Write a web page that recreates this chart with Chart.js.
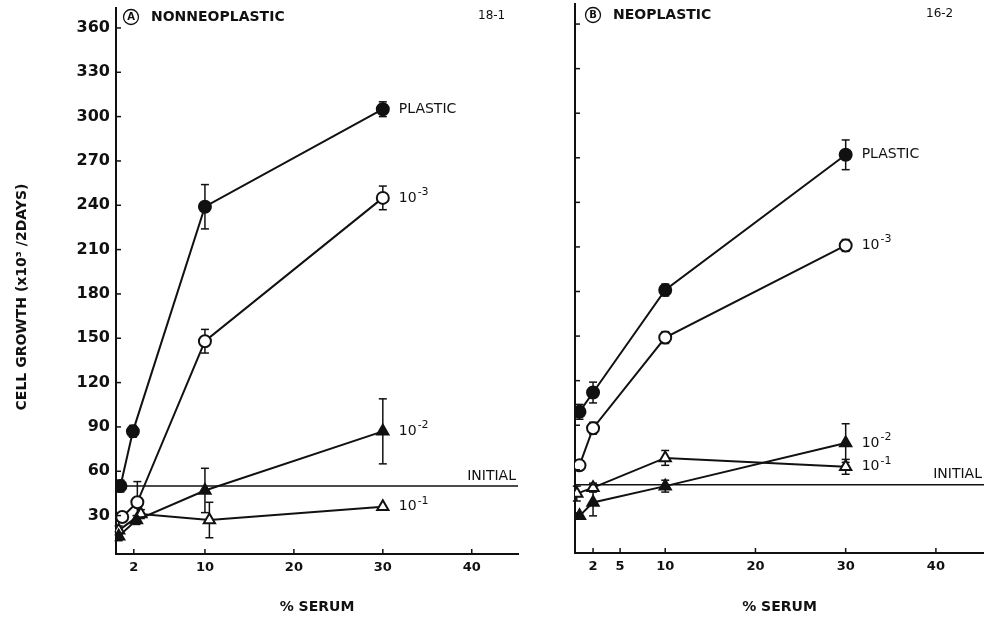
<!DOCTYPE html>
<html>
<head>
<meta charset="utf-8">
<script src="https://cdn.jsdelivr.net/npm/chart.js@4.4.1/dist/chart.umd.min.js"></script>
<style>
  html, body { margin: 0; padding: 0; background: #fff; }
  #chartA { position: absolute; left: 0; top: 0; }
  #chartB { position: absolute; left: 540px; top: 0; }
</style>
</head>
<body>
<canvas id="chartA" width="522" height="619"></canvas>
<canvas id="chartB" width="444" height="619"></canvas>
<script>
// tick labels
var yTicks = [30, 60, 90, 120, 150, 180, 210, 240, 270, 300, 330, 360];
var xTicksA = [2, 10, 20, 30, 40];
var xTicksB = [2, 5, 10, 20, 30, 40];
var initialLevel = 50;

// panel A, nonneoplastic 18-1
var aPlasticX = [0.5, 1.9, 10, 30];
var aPlasticY = [50, 87, 239, 305];
var aPlasticErr = [4, 4, 15, 5];
var a3X = [0.7, 2.4, 10, 30];
var a3Y = [29, 39, 148, 245];
var a3Err = [3, 14, 8, 8];
var a2X = [0.3, 2.3, 10, 30];
var a2Y = [16, 27, 47, 87];
var a2Err = [3, 3, 15, 22];
var a1X = [0.3, 2.8, 10.5, 30];
var a1Y = [20, 31, 27, 36];
var a1Err = [3, 3, 12, 0];

// panel B, neoplastic 16-2
var bPlasticX = [0.5, 2, 10, 30];
var bPlasticY = [99, 112, 181, 272];
var bPlasticErr = [5, 7, 4, 10];
var b3X = [0.5, 2, 10, 30];
var b3Y = [63, 88, 149, 211];
var b3Err = [2, 4, 4, 4];
var b2X = [0.5, 2, 10, 30];
var b2Y = [29, 38, 49, 78];
var b2Err = [2, 9, 4, 13];
var b1X = [0.2, 2, 10, 30];
var b1Y = [44, 48, 68, 62];
var b1Err = [5, 3, 5, 5];

var ink = '#111';
var FONT = 'DejaVu Sans';

function pts(xs, ys) {
  return xs.map(function (x, i) { return { x: x, y: ys[i] }; });
}

function series(label, xs, ys, errs, shape, filled) {
  return {
    label: label,
    data: pts(xs, ys),
    errors: errs,
    showLine: true,
    borderColor: ink,
    borderWidth: 2,
    pointStyle: shape,
    pointRadius: shape == 'triangle' ? 6.5 : 6,
    pointBorderWidth: 2,
    pointBorderColor: ink,
    pointBackgroundColor: filled ? ink : '#fff'
  };
}

function initialLine(xMax) {
  return {
    label: 'INITIAL',
    data: [{ x: 0, y: initialLevel }, { x: xMax, y: initialLevel }],
    showLine: true,
    borderColor: ink,
    borderWidth: 1.5,
    pointRadius: 0
  };
}

function line(ctx, x1, y1, x2, y2) {
  ctx.beginPath();
  ctx.moveTo(x1, y1);
  ctx.lineTo(x2, y2);
  ctx.stroke();
}

// "10^-3" -> 10 with a raised -3
function labelText(ctx, text, x, y) {
  var parts = text.split('^');
  ctx.font = '14px "' + FONT + '"';
  ctx.fillText(parts[0], x, y);
  if (parts.length > 1) {
    var w = ctx.measureText(parts[0]).width;
    ctx.font = '11px "' + FONT + '"';
    ctx.fillText(parts[1], x + w + 1, y - 6);
  }
}

var panelPlugin = {
  id: 'panel',
  beforeDatasetsDraw: function (chart) {
    var ctx = chart.ctx, xs = chart.scales.x, ys = chart.scales.y;
    ctx.save();
    ctx.strokeStyle = ink;
    ctx.lineWidth = 1.5;
    chart.data.datasets.forEach(function (ds) {
      if (!ds.errors) return;
      ds.data.forEach(function (p, i) {
        var e = ds.errors[i];
        if (!e) return;
        var px = xs.getPixelForValue(p.x);
        var top = ys.getPixelForValue(p.y + e);
        var bot = ys.getPixelForValue(p.y - e);
        line(ctx, px, top, px, bot);
        line(ctx, px - 4, top, px + 4, top);
        line(ctx, px - 4, bot, px + 4, bot);
      });
    });
    ctx.restore();
  },
  afterDraw: function (chart, args, opts) {
    var ctx = chart.ctx, xs = chart.scales.x, ys = chart.scales.y, a = chart.chartArea;
    ctx.save();
    ctx.strokeStyle = ink;
    ctx.fillStyle = ink;
    ctx.lineWidth = 1.5;
    // inward tick marks
    yTicks.forEach(function (v) {
      var py = ys.getPixelForValue(v);
      line(ctx, a.left, py, a.left + 5, py);
    });
    opts.xTicks.forEach(function (v) {
      var px = xs.getPixelForValue(v);
      line(ctx, px, a.bottom, px, a.bottom - 5);
    });

    // series names at the last point
    ctx.textBaseline = 'middle';
    ctx.textAlign = 'left';
    chart.data.datasets.forEach(function (ds) {
      if (!ds.errors) return;
      var p = ds.data[ds.data.length - 1];
      labelText(ctx, ds.label, xs.getPixelForValue(p.x) + 16, ys.getPixelForValue(p.y));
    });
    ctx.textAlign = 'right';
    ctx.font = '14px "' + FONT + '"';
    ctx.fillText('INITIAL', a.right - 2, ys.getPixelForValue(initialLevel) - 10);

    // panel heading
    ctx.lineWidth = 1.3;
    ctx.beginPath();
    ctx.arc(opts.circleX, opts.headY, 7.5, 0, Math.PI * 2);
    ctx.stroke();
    ctx.textAlign = 'center';
    ctx.font = 'bold 10px "' + FONT + '"';
    ctx.fillText(opts.letter, opts.circleX, opts.headY + 0.5);
    ctx.textAlign = 'left';
    ctx.font = 'bold 14px "' + FONT + '"';
    ctx.fillText(opts.title, opts.circleX + 20, opts.headY);
    ctx.font = '12px "' + FONT + '"';
    ctx.fillText(opts.code, opts.codeX, opts.headY - 1);

    if (opts.yTitle) {
      ctx.save();
      ctx.translate(22, 297);
      ctx.rotate(-Math.PI / 2);
      ctx.textAlign = 'center';
      ctx.font = 'bold 14px "' + FONT + '"';
      ctx.fillText(opts.yTitle, 0, 0);
      ctx.restore();
    }
    ctx.restore();
  }
};

function makeChart(id, datasets, cfg) {
  return new Chart(document.getElementById(id), {
    type: 'scatter',
    data: { datasets: datasets },
    plugins: [panelPlugin],
    options: {
      responsive: false,
      animation: false,
      layout: { autoPadding: false, padding: { top: cfg.top, right: cfg.right, left: 0, bottom: 0 } },
      plugins: {
        legend: { display: false },
        tooltip: { enabled: false },
        panel: cfg
      },
      scales: {
        x: {
          type: 'linear',
          min: 0,
          max: cfg.xMax,
          afterBuildTicks: function (s) {
            s.ticks = cfg.xTicks.map(function (v) { return { value: v }; });
          },
          afterFit: function (s) {
            s.height = cfg.xHeight;
            s.paddingLeft = 0;
            s.paddingRight = 0;
          },
          grid: { display: false, drawTicks: false },
          border: { display: true, color: ink, width: 2 },
          ticks: {
            color: ink,
            padding: 6,
            maxRotation: 0,
            autoSkip: false,
            font: { family: FONT, size: 13, weight: 'bold' }
          },
          title: {
            display: true,
            text: '% SERUM',
            color: ink,
            padding: { top: 0, bottom: 3 },
            font: { family: FONT, size: 14, weight: 'bold' }
          }
        },
        y: {
          type: 'linear',
          min: 4,
          max: 373.5,
          afterBuildTicks: function (s) {
            s.ticks = yTicks.map(function (v) { return { value: v }; });
          },
          afterFit: function (s) {
            s.width = cfg.yWidth;
            s.paddingTop = 0;
            s.paddingBottom = 0;
          },
          grid: { display: false, drawTicks: false },
          border: { display: true, color: ink, width: 2 },
          ticks: {
            display: cfg.yLabels,
            color: ink,
            padding: 6,
            font: { family: FONT, size: 16, weight: 'bold' }
          }
        }
      }
    }
  });
}

makeChart('chartA', [
  initialLine(45.2),
  series('PLASTIC', aPlasticX, aPlasticY, aPlasticErr, 'circle', true),
  series('10^-3', a3X, a3Y, a3Err, 'circle', false),
  series('10^-2', a2X, a2Y, a2Err, 'triangle', true),
  series('10^-1', a1X, a1Y, a1Err, 'triangle', false)
], {
  top: 8, right: 4, xMax: 45.2, xTicks: xTicksA, xHeight: 65, yWidth: 116, yLabels: true,
  letter: 'A', title: 'NONNEOPLASTIC', code: '18-1', circleX: 131, headY: 17, codeX: 478,
  yTitle: 'CELL GROWTH (x10³ /2DAYS)'
});

makeChart('chartB', [
  initialLine(45.33),
  series('PLASTIC', bPlasticX, bPlasticY, bPlasticErr, 'circle', true),
  series('10^-3', b3X, b3Y, b3Err, 'circle', false),
  series('10^-2', b2X, b2Y, b2Err, 'triangle', true),
  series('10^-1', b1X, b1Y, b1Err, 'triangle', false)
], {
  top: 4, right: 0, xMax: 45.33, xTicks: xTicksB, xHeight: 66, yWidth: 35, yLabels: false,
  letter: 'B', title: 'NEOPLASTIC', code: '16-2', circleX: 53, headY: 15, codeX: 386
});
</script>
</body>
</html>
